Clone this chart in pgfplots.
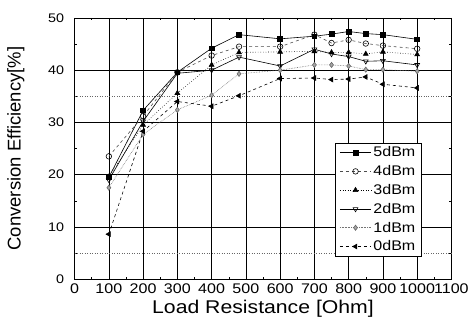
\documentclass[border=0pt]{standalone}
\usepackage{fontspec}
\setmainfont{Liberation Sans}
\usepackage{graphicx}
\usepackage{pgfplots}
\pgfplotsset{compat=1.18}
\begin{document}
\begin{tikzpicture}
\begin{axis}[
  scale only axis,
  width=378pt, height=262pt,
  xmin=0, xmax=1100, ymin=0, ymax=50,
  xtick={0,100,...,1100}, ytick={0,10,...,50},
  minor x tick num=1, minor y tick num=1,
  /pgf/number format/1000 sep={},
  /pgf/number format/assume math mode=true,
  xticklabel={\scalebox{1.15}[1]{\pgfmathprintnumber{\tick}}},
  yticklabel={\scalebox{1.15}[1]{\pgfmathprintnumber{\tick}}},
  xticklabel style={font=\fontsize{14}{14}\selectfont, yshift=-1pt},
  yticklabel style={font=\fontsize{12.5}{12.5}\selectfont, xshift=-7pt},
  tick style={black, line width=0.5pt},
  major tick length=4pt, minor tick length=2.5pt,
  grid=major,
  major grid style={black, line width=0.5pt},
  axis line style={black, line width=0.8pt},
  extra y ticks={5,35},
  extra y tick labels={},
  extra y tick style={grid=major, major grid style={black!60, dotted, line width=0.6pt}, major tick length=0pt},
  xlabel={\scalebox{1.15}[1]{Load Resistance [Ohm]}},
  ylabel={Conversion Efficiency[\%]},
  xlabel style={font=\fontsize{18.5}{18.5}\selectfont, at={(axis description cs:0.5,-0.115)}, anchor=center},
  ylabel style={font=\fontsize{18.5}{18.5}\selectfont, at={(axis description cs:-0.156,0.5)}, anchor=center},
  legend style={at={(axis cs:1013,4.4)}, anchor=south east, draw=black, line width=0.6pt,
    font=\fontsize{14}{14}\selectfont, fill=white, inner ysep=1.5pt, inner xsep=4pt, row sep=3.2pt,
    /tikz/every even column/.append style={column sep=0pt}},
  legend cell align=left,
  legend image code/.code={\draw[mark repeat=2,mark phase=2] plot coordinates {(0cm,0cm) (0.55cm,0cm) (1.1cm,0cm)};},
  every axis plot/.append style={line width=0.6pt},
]
\addplot[black, solid, mark=square*, mark size=2.4pt, mark options={solid}] coordinates {
(100,19.5)(200,32.3)(300,39.6)(400,44.2)(480,46.8)(600,46.0)(700,46.5)(750,46.9)(800,47.4)(850,47.0)(900,46.8)(1000,45.9)};
\addlegendentry{\scalebox{1.15}[1]{5dBm}}
\addplot[black!70, dashed, mark=o, mark size=2.8pt, mark options={solid, black, fill=white}] coordinates {
(100,23.5)(200,31.2)(300,39.6)(400,42.8)(480,44.5)(600,44.5)(700,46.8)(750,45.2)(800,45.8)(850,45.1)(900,44.7)(1000,44.1)};
\addlegendentry{\scalebox{1.15}[1]{4dBm}}
\addplot[black, dotted, mark=triangle*, mark size=2.8pt, mark options={solid}] coordinates {
(100,19.6)(200,29.5)(300,35.6)(400,41.0)(480,43.4)(600,43.5)(700,43.6)(750,43.4)(800,43.4)(850,43.1)(900,43.5)(1000,43.0)};
\addlegendentry{\scalebox{1.15}[1]{3dBm}}
\addplot[black, solid, mark=triangle, mark size=2.8pt, mark options={solid, rotate=180, fill=white}] coordinates {
(100,19.0)(200,30.2)(300,39.4)(400,40.0)(480,42.5)(600,40.8)(700,44.0)(750,43.1)(800,42.6)(850,41.7)(900,41.8)(1000,41.0)};
\addlegendentry{\scalebox{1.15}[1]{2dBm}}
\addplot[black!55, densely dotted, mark=diamond*, mark size=2.6pt, mark options={solid, fill=black!35, draw=black!60}] coordinates {
(100,17.5)(200,27.7)(300,32.4)(400,35.2)(480,39.3)(600,40.0)(700,41.0)(750,41.0)(800,40.8)(850,40.1)(900,40.1)(1000,39.8)};
\addlegendentry{\scalebox{1.15}[1]{1dBm}}
\addplot[black, dashed, mark=triangle*, mark size=2.8pt, mark options={solid, rotate=90}] coordinates {
(100,8.6)(200,28.3)(300,34.0)(400,33.1)(480,35.1)(600,38.4)(700,38.5)(750,38.2)(800,38.3)(850,38.7)(900,37.3)(1000,36.6)};
\addlegendentry{\scalebox{1.15}[1]{0dBm}}
\coordinate (bl) at (rel axis cs:-0.198,-0.195);
\coordinate (tr) at (rel axis cs:1.0503,1.0687);
\end{axis}
\path (bl) rectangle (tr);
\end{tikzpicture}
\end{document}
